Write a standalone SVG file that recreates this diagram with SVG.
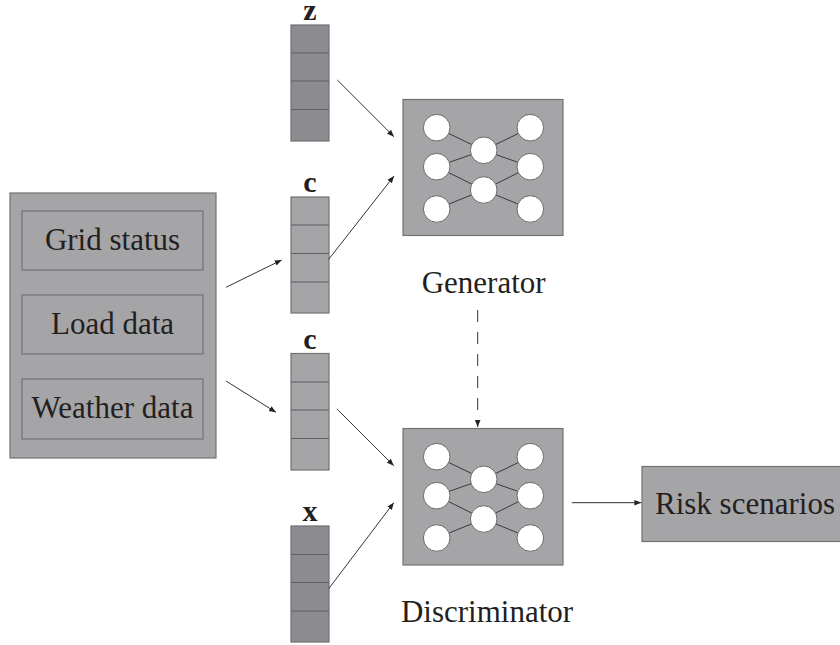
<svg xmlns="http://www.w3.org/2000/svg" width="840" height="645" viewBox="0 0 840 645">
<defs>
<style>
.box{fill:#a5a5a8;stroke:#727274;stroke-width:1.2}
.dark{fill:#8c8c90;stroke:#707072;stroke-width:1.2}
.cell{stroke:#5f5f62;stroke-width:1.2}
.t{font-family:"Liberation Serif","Times New Roman",serif;font-size:31px;fill:#231f20;text-anchor:middle}
.lbl{font-family:"Liberation Serif","Times New Roman",serif;font-size:30px;font-weight:600;fill:#231f20;text-anchor:middle}
.conn{stroke:#333;stroke-width:1;fill:none}
.net line{stroke:#3a3a3c;stroke-width:1}
.net circle{fill:#fff;stroke:#6a6a6c;stroke-width:1}
</style>
<marker id="ah" viewBox="0 0 10 10" refX="10" refY="5" markerWidth="7" markerHeight="7" markerUnits="userSpaceOnUse" orient="auto">
<path d="M0,1 L10,5 L0,9 z" fill="#222"/>
</marker>
<g id="netproto" class="net">
<line x1="436.7" y1="127.7" x2="483.7" y2="150.3"/>
<line x1="436.7" y1="166.7" x2="483.7" y2="150.3"/>
<line x1="436.7" y1="166.7" x2="483.7" y2="190"/>
<line x1="436.7" y1="209" x2="483.7" y2="190"/>
<line x1="530.3" y1="127.7" x2="483.7" y2="150.3"/>
<line x1="530.3" y1="166.7" x2="483.7" y2="150.3"/>
<line x1="530.3" y1="166.7" x2="483.7" y2="190"/>
<line x1="530.3" y1="209" x2="483.7" y2="190"/>
<circle cx="436.7" cy="127.7" r="13.3"/>
<circle cx="436.7" cy="166.7" r="13.3"/>
<circle cx="436.7" cy="209" r="13.3"/>
<circle cx="483.7" cy="150.3" r="13.3"/>
<circle cx="483.7" cy="190" r="13.3"/>
<circle cx="530.3" cy="127.7" r="13.3"/>
<circle cx="530.3" cy="166.7" r="13.3"/>
<circle cx="530.3" cy="209" r="13.3"/>
</g>
</defs>

<g id="inputs">
<rect class="box" x="10" y="193" width="206" height="265"/>
<rect class="box" x="22" y="211" width="181" height="59"/>
<text class="t" x="112.5" y="250">Grid status</text>
<rect class="box" x="22" y="295" width="181" height="59"/>
<text class="t" x="112.5" y="334">Load data</text>
<rect class="box" x="22" y="379" width="181" height="60"/>
<text class="t" x="112.5" y="418">Weather data</text>
</g>

<g id="z-vector">
<text class="lbl" x="310" y="20">z</text>
<rect class="dark" x="291" y="25" width="38" height="116"/>
<path class="cell" d="M291,53H329M291,81H329M291,109.5H329"/>
</g>

<g id="c-vector-1">
<text class="lbl" x="310" y="192">c</text>
<rect class="box" x="291" y="197" width="38" height="116"/>
<path class="cell" d="M291,225H329M291,253.5H329M291,282H329"/>
</g>

<g id="c-vector-2">
<text class="lbl" x="310" y="349">c</text>
<rect class="box" x="291" y="353.5" width="38" height="116.5"/>
<path class="cell" d="M291,382H329M291,410H329M291,438.5H329"/>
</g>

<g id="x-vector">
<text class="lbl" x="310" y="521">x</text>
<rect class="dark" x="291" y="526" width="38" height="116"/>
<path class="cell" d="M291,554.5H329M291,582.5H329M291,611H329"/>
</g>

<g id="generator">
<rect class="box" x="403" y="99.5" width="160" height="136"/>
<use href="#netproto"/>
<text class="t" x="483.7" y="293">Generator</text>
</g>

<g id="discriminator">
<rect class="box" x="403" y="428.5" width="160" height="136.5"/>
<use href="#netproto" transform="translate(0,329)"/>
<text class="t" x="487" y="621.5">Discriminator</text>
</g>

<g id="risk">
<rect class="box" x="642" y="466.5" width="205" height="75"/>
<text class="t" x="745" y="513.5">Risk scenarios</text>
</g>

<g id="connectors">
<line class="conn" x1="337.3" y1="80" x2="394" y2="136.7" marker-end="url(#ah)"/>
<line class="conn" x1="328.7" y1="259.3" x2="394" y2="176" marker-end="url(#ah)"/>
<line class="conn" x1="226" y1="287.3" x2="281.7" y2="260" marker-end="url(#ah)"/>
<line class="conn" x1="226" y1="381" x2="276" y2="412.3" marker-end="url(#ah)"/>
<line class="conn" x1="337.3" y1="409.3" x2="393.8" y2="465.7" marker-end="url(#ah)"/>
<line class="conn" x1="329" y1="588.3" x2="393.8" y2="502.7" marker-end="url(#ah)"/>
<line class="conn" x1="571.8" y1="502.7" x2="641.4" y2="502.7" marker-end="url(#ah)"/>
<line class="conn" x1="477.7" y1="310" x2="477.7" y2="427" stroke-dasharray="12 10" marker-end="url(#ah)"/>
</g>
</svg>
